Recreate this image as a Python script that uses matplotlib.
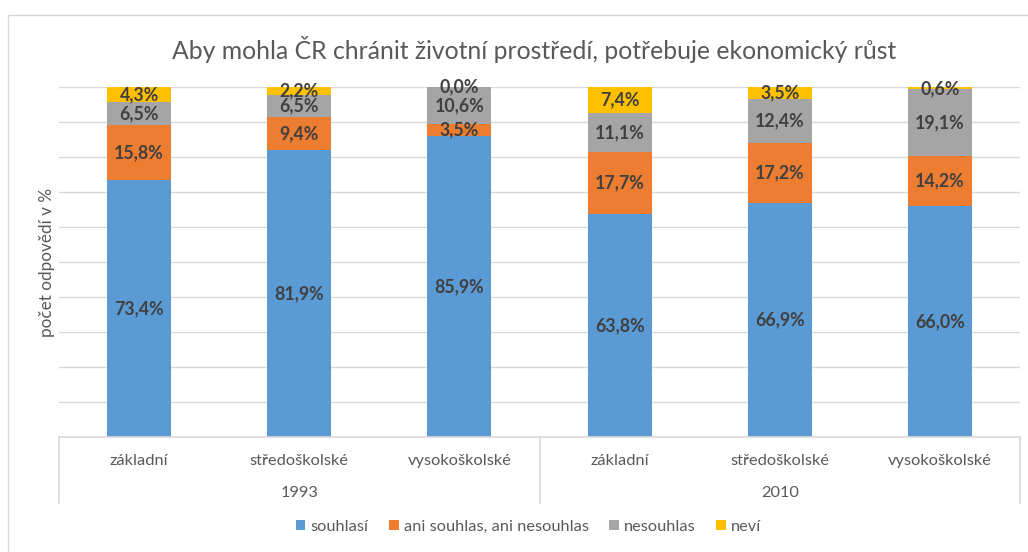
import matplotlib
matplotlib.use("Agg")
import matplotlib.pyplot as plt
from matplotlib.patches import Patch, Rectangle
from matplotlib.lines import Line2D

plt.rcParams['font.family'] = ['Lato', 'DejaVu Sans']

title = "Aby mohla ČR chránit životní prostředí, potřebuje ekonomický růst"
ylabel = "počet odpovědí v %"
categories = ["základní", "středoškolské", "vysokoškolské",
              "základní", "středoškolské", "vysokoškolské"]
years = ["1993", "2010"]
series_names = ["souhlasí", "ani souhlas, ani nesouhlas", "nesouhlas", "neví"]
souhlasi = [73.4, 81.9, 85.9, 63.8, 66.9, 66.0]
ani = [15.8, 9.4, 3.5, 17.7, 17.2, 14.2]
nesouhlas = [6.5, 6.5, 10.6, 11.1, 12.4, 19.1]
nevi = [4.3, 2.2, 0.0, 7.4, 3.5, 0.6]
colors = ["#5b9bd5", "#ed7d31", "#a5a5a5", "#ffc000"]

W, H = 1028, 552
fig = plt.figure(figsize=(W / 100, H / 100), dpi=100)
fig.patch.set_facecolor("white")

# outer border
fig.add_artist(Rectangle((8 / W, -0.01), 1.1, 1 - 15 / H + 0.01, transform=fig.transFigure,
                         fill=False, edgecolor="#d9d9d9", linewidth=1))

ax = fig.add_axes([59 / W, 1 - 437 / H, (1020 - 59) / W, (437 - 87) / H])
x = list(range(len(categories)))
bottom = [0.0] * len(x)
for name, vals, c in zip(series_names, [souhlasi, ani, nesouhlas, nevi], colors):
    ax.bar(x, vals, bottom=bottom, width=0.4, color=c, label=name, zorder=3)
    for xi, b, v in zip(x, bottom, vals):
        ax.text(xi, b + v / 2, f"{v:.1f}".replace(".", ",") + "%", ha="center", va="center",
                fontsize=12.8, fontweight="bold", color="#404040", zorder=4)
    bottom = [b + v for b, v in zip(bottom, vals)]

ax.set_xlim(-0.5, len(x) - 0.5)
ax.set_ylim(0, 100)
ax.set_yticks(range(0, 101, 10))
ax.set_yticklabels([])
ax.tick_params(axis="y", length=0)
ax.set_xticks([])
ax.grid(axis="y", color="#d9d9d9", linewidth=1, zorder=0)
for s in ["top", "right", "left"]:
    ax.spines[s].set_visible(False)
ax.spines["bottom"].set_color("#d9d9d9")
ax.spines["bottom"].set_linewidth(1.2)
ax.spines["bottom"].set_zorder(5)

ax.set_ylabel(ylabel, fontsize=12.3, color="#595959")
ax.yaxis.set_label_coords(-(59 - 55) / (1020 - 59), 0.5)

# multi-level category axis
trans = ax.get_xaxis_transform()
sep_bottom = -(503 - 437) / (437 - 87)
for xs in [-0.5, 2.5, 5.5]:
    ax.add_line(Line2D([xs, xs], [0, sep_bottom], transform=trans, color="#d9d9d9",
                       linewidth=1.2, clip_on=False))
cat_y = -(461 - 437) / (437 - 87)
year_y = -(493 - 437) / (437 - 87)
for xi, c in zip(x, categories):
    ax.text(xi, cat_y, c, transform=trans, ha="center", va="center", fontsize=11.8, color="#595959")
for i, yr in enumerate(years):
    ax.text(1 + 3 * i, year_y, yr, transform=trans, ha="center", va="center", fontsize=11.8,
            color="#595959")

fig.text(0.52, 1 - 49 / H, title, ha="center", va="center", fontsize=17.8, color="#595959")

handles = [Patch(facecolor=c, edgecolor="none") for c in colors]
fig.legend(handles, series_names, loc="center", bbox_to_anchor=(0.514, 1 - 527 / H), ncol=4,
           frameon=False, fontsize=11.8, labelcolor="#595959", handlelength=0.6, handleheight=0.6,
           handletextpad=0.3, columnspacing=1.25)

fig.savefig("out.png", dpi=100, facecolor="white")
